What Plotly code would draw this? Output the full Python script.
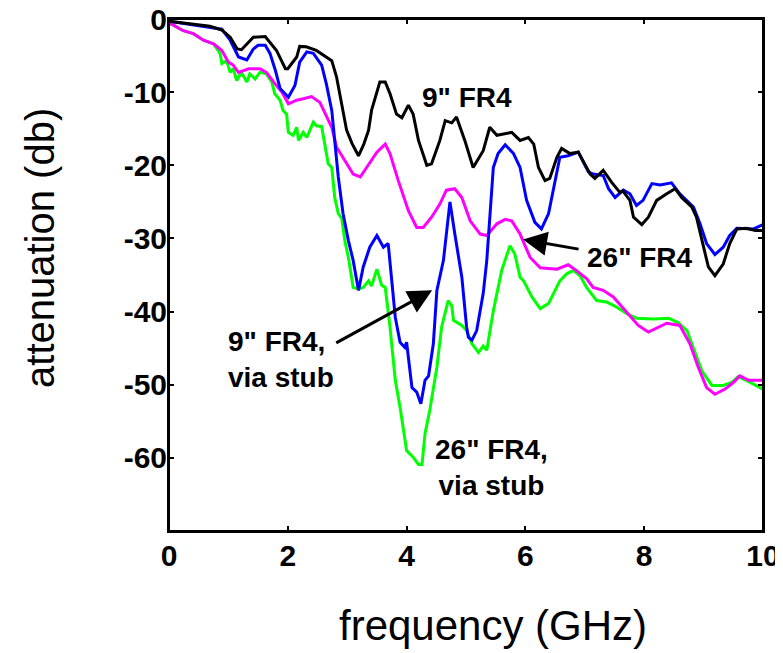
import plotly.graph_objects as go

# ---- data ----
freq_9in = [0, 0.41, 0.69, 0.89, 1.03, 1.15, 1.22, 1.42, 1.62, 1.81,
            1.96, 2.0, 2.15, 2.2, 2.31, 2.48, 2.6, 2.74, 2.82, 2.91,
            2.99, 3.08, 3.19, 3.28, 3.36, 3.41, 3.55, 3.64, 3.72, 3.83,
            3.92, 4.03, 4.11, 4.2, 4.34, 4.42, 4.56, 4.65, 4.76, 4.84,
            4.98, 5.12, 5.29, 5.40, 5.52, 5.77, 5.91, 6.05, 6.14, 6.22,
            6.33, 6.41, 6.53, 6.61, 6.75, 6.89, 7.0, 7.09, 7.17, 7.31,
            7.45, 7.59, 7.64, 7.76, 7.82, 7.96, 8.07, 8.21, 8.38, 8.52,
            8.63, 8.80, 8.88, 8.97, 9.08, 9.19, 9.33, 9.44, 9.56, 9.72,
            9.87, 10]
att_9in = [-0.3, -0.7, -1.0, -1.5, -2.5, -4.1, -4.2, -2.5, -2.4, -4.3,
           -6.8, -6.8, -5.2, -3.75, -3.8, -4.3, -5.0, -5.7, -7.9, -11.6,
           -15.2, -17.0, -18.7, -17.1, -15.2, -12.5, -8.6, -8.6, -10.2, -13.0,
           -13.5, -11.8, -13.0, -16.6, -20.0, -19.8, -16.6, -13.9, -14.2, -13.4,
           -16.6, -20.3, -18.0, -14.8, -15.9, -15.5, -16.6, -16.2, -17.1, -20.3,
           -22.1, -21.8, -18.9, -17.7, -18.4, -18.2, -19.8, -21.2, -21.8, -20.7,
           -22.3, -23.7, -23.5, -24.8, -27.1, -28.1, -27.1, -24.8, -23.9, -23.2,
           -24.4, -25.7, -27.1, -30.3, -33.9, -35.1, -33.5, -30.7, -28.7, -28.6,
           -28.9, -28.9]

freq_9in_stub = [0, 0.41, 0.69, 0.89, 1.03, 1.17, 1.31, 1.42, 1.50, 1.62,
                 1.70, 1.79, 1.87, 2.01, 2.12, 2.2, 2.32, 2.43, 2.57, 2.65,
                 2.74, 2.79, 2.85, 2.93, 3.02, 3.10, 3.19, 3.27, 3.38, 3.50,
                 3.61, 3.69, 3.81, 3.89, 3.97, 4.0, 4.09, 4.17, 4.24, 4.31,
                 4.37, 4.45, 4.51, 4.62, 4.73, 4.81, 4.93, 5.01, 5.04, 5.10,
                 5.18, 5.29, 5.35, 5.46, 5.54, 5.66, 5.80, 5.91, 6.02, 6.16,
                 6.27, 6.39, 6.47, 6.58, 6.72, 6.89, 7.06, 7.14, 7.31, 7.40,
                 7.51, 7.65, 7.76, 7.87, 7.98, 8.13, 8.27, 8.46, 8.60, 8.83,
                 8.94, 9.05, 9.19, 9.33, 9.44, 9.56, 9.84, 10]
att_9in_stub = [-0.3, -0.8, -1.1, -1.4, -2.9, -5.2, -5.6, -4.1, -3.6, -3.6,
                -4.7, -7.0, -9.5, -10.7, -9.1, -5.9, -4.5, -4.7, -6.3, -8.9,
                -12.5, -17.1, -21.6, -26.6, -30.3, -33.0, -37.1, -33.9, -31.2, -29.6,
                -31.2, -30.7, -40.8, -44.2, -44.9, -44.2, -50.4, -51.0, -52.6, -49.4,
                -48.8, -44.4, -37.1, -33.0, -25.0, -29.3, -35.3, -42.1, -43.5, -43.9,
                -42.6, -37.5, -33.0, -20.3, -18.4, -17.2, -18.4, -20.3, -24.8, -27.8,
                -28.7, -26.6, -23.4, -18.9, -18.7, -18.2, -20.9, -21.2, -21.4, -23.2,
                -24.4, -23.4, -23.9, -25.5, -24.8, -22.5, -22.7, -22.4, -23.9, -25.7,
                -28.0, -30.7, -32.2, -31.2, -29.6, -28.6, -28.7, -28.1]

freq_26in = [0, 0.24, 0.41, 0.58, 0.75, 0.89, 1.00, 1.08, 1.17, 1.34,
             1.53, 1.64, 1.76, 1.90, 2.01, 2.15, 2.26, 2.40, 2.54, 2.65,
             2.74, 2.82, 2.93, 3.02, 3.10, 3.22, 3.33, 3.50, 3.64, 3.72,
             3.86, 4.03, 4.17, 4.28, 4.42, 4.56, 4.67, 4.81, 4.93, 5.07,
             5.24, 5.35, 5.52, 5.66, 5.77, 5.91, 6.08, 6.25, 6.53, 6.72,
             6.86, 7.03, 7.14, 7.31, 7.48, 7.65, 7.76, 7.90, 8.07, 8.24,
             8.38, 8.60, 8.77, 8.91, 9.05, 9.19, 9.36, 9.50, 9.61, 9.76,
             10]
att_26in = [-0.5, -1.6, -2.0, -2.9, -3.4, -4.3, -5.9, -6.3, -7.3, -6.8,
            -6.8, -7.3, -8.6, -10.0, -11.6, -11.1, -10.9, -10.6, -11.4, -13.4,
            -14.8, -17.5, -18.9, -20.0, -21.2, -21.6, -20.3, -18.2, -17.1, -18.4,
            -22.1, -26.2, -28.5, -28.5, -27.1, -25.3, -23.4, -23.2, -24.4, -27.6,
            -29.4, -29.6, -28.0, -27.4, -27.6, -29.4, -32.6, -34.0, -34.2, -33.6,
            -34.4, -35.5, -36.7, -37.1, -38.0, -39.6, -40.5, -41.9, -42.8, -42.1,
            -41.6, -41.9, -44.4, -47.6, -50.4, -51.3, -50.6, -49.7, -48.8, -49.4,
            -49.4]

freq_26in_stub = [0, 0.24, 0.41, 0.58, 0.75, 0.86, 0.89, 0.97, 1.03, 1.08,
                  1.14, 1.22, 1.31, 1.36, 1.45, 1.53, 1.64, 1.73, 1.78, 1.87,
                  1.92, 1.98, 2.01, 2.09, 2.15, 2.18, 2.26, 2.32, 2.43, 2.48,
                  2.57, 2.63, 2.68, 2.74, 2.79, 2.85, 2.91, 2.96, 3.02, 3.10,
                  3.19, 3.27, 3.36, 3.41, 3.50, 3.58, 3.64, 3.72, 3.81, 3.89,
                  4.0, 4.11, 4.20, 4.26, 4.31, 4.39, 4.51, 4.59, 4.70, 4.76,
                  4.79, 4.93, 5.01, 5.10, 5.21, 5.29, 5.35, 5.46, 5.60, 5.74,
                  5.82, 5.91, 5.97, 6.11, 6.25, 6.39, 6.47, 6.58, 6.70, 6.81,
                  6.92, 7.03, 7.20, 7.37, 7.54, 7.71, 7.87, 8.15, 8.41, 8.57,
                  8.72, 8.83, 8.97, 9.14, 9.33, 9.47, 9.58, 9.72, 9.87, 10]
att_26in_stub = [-0.5, -1.6, -2.0, -2.9, -3.4, -4.7, -6.1, -5.7, -7.3, -6.8,
                 -8.4, -7.3, -8.6, -7.5, -8.2, -7.3, -7.5, -8.6, -10.2, -11.1,
                 -12.5, -13.0, -15.5, -15.9, -14.8, -16.6, -15.5, -16.2, -14.1, -14.6,
                 -14.7, -17.5, -19.8, -20.3, -24.4, -26.6, -27.3, -30.3, -32.6, -36.7,
                 -36.9, -36.7, -35.8, -36.5, -34.2, -36.4, -36.7, -42.1, -49.4, -53.1,
                 -59.0, -59.9, -60.9, -60.9, -56.7, -53.5, -47.6, -42.1, -38.5, -39.2,
                 -41.2, -41.9, -42.6, -44.4, -45.6, -44.7, -45.3, -39.9, -34.4, -31.0,
                 -32.1, -35.3, -35.8, -38.0, -39.6, -38.9, -37.6, -35.8, -34.8, -34.4,
                 -35.1, -36.7, -38.5, -38.7, -39.4, -40.3, -40.9, -41.0, -40.9, -41.5,
                 -42.6, -44.9, -48.1, -50.1, -50.1, -49.7, -48.9, -49.4, -50.0, -50.6]

x_ticks = [0, 2, 4, 6, 8, 10]
x_tick_labels = ["0", "2", "4", "6", "8", "10"]
y_ticks = [0, -10, -20, -30, -40, -50, -60]
y_tick_labels = ["0", "-10", "-20", "-30", "-40", "-50", "-60"]

# ---- figure ----
FONT = "Arial, Liberation Sans, sans-serif"
fig = go.Figure()
series = [
    (freq_26in_stub, att_26in_stub, "#00FF00", '26" FR4, via stub'),
    (freq_26in, att_26in, "#FF00FF", '26" FR4'),
    (freq_9in_stub, att_9in_stub, "#0000FF", '9" FR4, via stub'),
    (freq_9in, att_9in, "#000000", '9" FR4'),
]
for xs, ys, col, name in series:
    fig.add_trace(go.Scatter(x=xs, y=ys, mode="lines", name=name,
                             line=dict(color=col, width=3)))

axis_common = dict(showgrid=False, zeroline=False, showline=True, linecolor="black",
                   linewidth=2, mirror="ticks", ticks="inside", ticklen=5,
                   tickcolor="black", tickwidth=1.5, automargin=False,
                   ticklabeloverflow="allow",
                   tickfont=dict(family=FONT, size=30, color="black", weight="bold"))
fig.update_xaxes(range=[0, 10], tickvals=x_ticks, ticktext=x_tick_labels,
                 ticklabelstandoff=-3, **axis_common)
fig.update_yaxes(range=[-70, 0], tickvals=y_ticks, ticktext=y_tick_labels,
                 ticklabelstandoff=-6, **axis_common)

ann_font = dict(family=FONT, size=28, color="black", weight="bold")
annotations = [
    dict(x=0.545, y=-0.185, xref="paper", yref="paper", text="frequency (GHz)",
         xanchor="center", yanchor="middle",
         showarrow=False, font=dict(family=FONT, size=42, color="black")),
    dict(x=-0.217, y=0.553, xref="paper", yref="paper", text="attenuation (db)",
         xanchor="center", yanchor="middle",
         textangle=-90, showarrow=False, font=dict(family=FONT, size=40, color="black")),
    dict(x=5.01, y=-10.77, xref="x", yref="y", text='9" FR4', showarrow=False,
         xanchor="center", yanchor="middle", font=ann_font),
    dict(x=7.93, y=-32.6, xref="x", yref="y", text='26" FR4', showarrow=False,
         xanchor="center", yanchor="middle", font=ann_font),
    dict(x=1.885, y=-46.6, xref="x", yref="y", text='9" FR4,<br>via stub', align="left",
         xanchor="center", yanchor="middle", showarrow=False, font=ann_font),
    dict(x=5.43, y=-61.3, xref="x", yref="y", text='26" FR4,<br>via stub', align="center",
         xanchor="center", yanchor="middle", showarrow=False, font=ann_font),
    # arrows
    dict(x=5.96, y=-30.15, xref="x", yref="y", ax=6.92, ay=-31.5, axref="x", ayref="y",
         text="", showarrow=True, arrowhead=2, arrowsize=1.6, arrowwidth=3, arrowcolor="black"),
    dict(x=4.43, y=-37.1, xref="x", yref="y", ax=2.79, ay=-44.4, axref="x", ayref="y",
         text="", showarrow=True, arrowhead=2, arrowsize=1.6, arrowwidth=3, arrowcolor="black"),
]

# the page body adds an 8 px offset; the figure div covers the rest of the window
fig.update_layout(
    width=775, height=645,
    margin=dict(l=161, r=20, t=11, b=122),
    paper_bgcolor="white", plot_bgcolor="white",
    showlegend=False,
    annotations=annotations,
    shapes=[dict(type="rect", xref="paper", yref="paper", x0=0, x1=1, y0=0, y1=1,
                 line=dict(color="black", width=2), fillcolor="rgba(0,0,0,0)",
                 layer="above")],
)
fig.write_html("out.html")
